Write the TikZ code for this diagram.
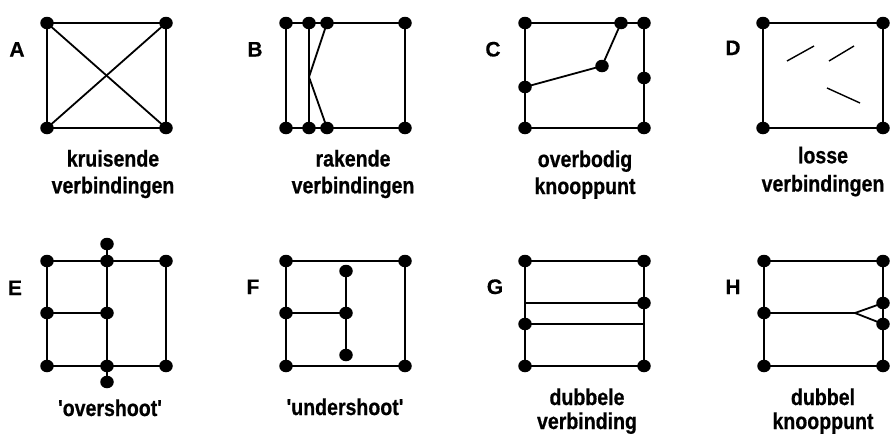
\documentclass[tikz,border=0pt]{standalone}
\usepackage{fontspec}
\usetikzlibrary{shapes.geometric}
\newfontfamily\capfont{Liberation Sans}[FakeStretch=0.85,FakeBold=0.6]
\newfontfamily\letfont{Liberation Sans}[FakeBold=0.4]
\begin{document}
\begin{tikzpicture}[x=1pt,y=-1pt,
  ln/.style={line width=1.8pt,line join=miter},
  thinln/.style={line width=1.4pt},
  dot/.style={ellipse,fill=black,inner sep=0pt,minimum width=13.5pt,minimum height=12.5pt},
  captxt/.style={anchor=base,inner sep=0pt,font=\capfont\bfseries\fontsize{23}{27}\selectfont},
  lettxt/.style={anchor=base,inner sep=0pt,font=\letfont\bfseries\fontsize{21}{25}\selectfont}]
\useasboundingbox (0,0) rectangle (890,434);
% ---------- A
\coordinate (a1) at (47,23); \coordinate (a2) at (166,23);
\coordinate (a3) at (47,128); \coordinate (a4) at (166,128);
\draw[ln] (a1) -- (a2) -- (a4) -- (a3) -- cycle;
\draw[ln] (a1) -- (a4); \draw[ln] (a2) -- (a3);
\foreach \p in {a1,a2,a3,a4} \node[dot] (n\p) at (\p) {};
\node[lettxt] (lA) at (17,56.5) {A};
\node[captxt] (tA1) at (113,166.5) {kruisende};
\node[captxt] (tA2) at (113,193.3) {verbindingen};
% ---------- B
\coordinate (b1) at (286,23); \coordinate (b2) at (309,23);
\coordinate (b3) at (327,23); \coordinate (b4) at (405,23);
\coordinate (b5) at (286,128); \coordinate (b6) at (309,128);
\coordinate (b7) at (327,128); \coordinate (b8) at (405,128);
\coordinate (bk) at (309,77);
\draw[ln] (b1) -- (b4) -- (b8) -- (b5) -- cycle;
\draw[ln] (b2) -- (b6);
\draw[ln] (b3) -- (bk) -- (b7);
\foreach \p in {b1,b2,b3,b4,b5,b6,b7,b8} \node[dot] (n\p) at (\p) {};
\node[lettxt] (lB) at (255,56.5) {B};
\node[captxt] (tB1) at (353,166.5) {rakende};
\node[captxt] (tB2) at (353,193.3) {verbindingen};
% ---------- C
\coordinate (c1) at (525,23); \coordinate (c2) at (621,23);
\coordinate (c3) at (644,23); \coordinate (c4) at (602,66);
\coordinate (c5) at (525,87); \coordinate (c6) at (644,78);
\coordinate (c7) at (525,128); \coordinate (c8) at (644,128);
\draw[ln] (c1) -- (c3) -- (c6) -- (c8) -- (c7) -- cycle;
\draw[ln] (c5) -- (c4) -- (c2);
\foreach \p in {c1,c2,c3,c4,c5,c6,c7,c8} \node[dot] (n\p) at (\p) {};
\node[lettxt] (lC) at (493,56.5) {C};
\node[captxt] (tC1) at (585,167) {overbodig};
\node[captxt] (tC2) at (585,194) {knooppunt};
% ---------- D
\coordinate (d1) at (763,23); \coordinate (d2) at (883,23);
\coordinate (d3) at (763,128); \coordinate (d4) at (883,128);
\draw[ln] (d1) -- (d2) -- (d4) -- (d3) -- cycle;
\coordinate (s1a) at (787,61); \coordinate (s1b) at (814,46);
\coordinate (s2a) at (829,61); \coordinate (s2b) at (854,46);
\coordinate (s3a) at (827,88); \coordinate (s3b) at (860,103);
\draw[thinln] (s1a) -- (s1b);
\draw[thinln] (s2a) -- (s2b);
\draw[thinln] (s3a) -- (s3b);
\foreach \p in {d1,d2,d3,d4} \node[dot] (n\p) at (\p) {};
\node[lettxt] (lD) at (733,55) {D};
\node[captxt] (tD1) at (823,163.3) {losse};
\node[captxt] (tD2) at (823,191.5) {verbindingen};
% ---------- E
\coordinate (e1) at (47,261); \coordinate (e2) at (107,261); \coordinate (e3) at (166,261);
\coordinate (e0) at (107,244);
\coordinate (e4) at (47,313); \coordinate (e5) at (107,313);
\coordinate (e6) at (47,366); \coordinate (e7) at (107,366); \coordinate (e8) at (166,366);
\coordinate (e9) at (107,382);
\draw[ln] (e1) -- (e3) -- (e8) -- (e6) -- cycle;
\draw[ln] (e4) -- (e5);
\draw[ln] (e0) -- (e9);
\foreach \p in {e0,e1,e2,e3,e4,e5,e6,e7,e8,e9} \node[dot] (n\p) at (\p) {};
\node[lettxt] (lE) at (15,295) {E};
\node[captxt] (tE) at (110,416) {'overshoot'};
% ---------- F
\coordinate (f1) at (286,261); \coordinate (f2) at (405,261);
\coordinate (f3) at (286,313); \coordinate (f4) at (346,313);
\coordinate (f5) at (346,271); \coordinate (f6) at (346,355);
\coordinate (f7) at (286,366); \coordinate (f8) at (405,366);
\draw[ln] (f1) -- (f2) -- (f8) -- (f7) -- cycle;
\draw[ln] (f3) -- (f4);
\draw[ln] (f5) -- (f6);
\foreach \p in {f1,f2,f3,f4,f5,f6,f7,f8} \node[dot] (n\p) at (\p) {};
\node[lettxt] (lF) at (253,294) {F};
\node[captxt] (tF) at (345,415) {'undershoot'};
% ---------- G
\coordinate (g1) at (525,261); \coordinate (g2) at (644,261);
\coordinate (g3) at (644,303); \coordinate (gl) at (525,303);
\coordinate (g4) at (525,324); \coordinate (gr) at (644,324);
\coordinate (g5) at (525,366); \coordinate (g6) at (644,366);
\draw[ln] (g1) -- (g2) -- (g6) -- (g5) -- cycle;
\draw[ln] (gl) -- (g3);
\draw[ln] (g4) -- (gr);
\foreach \p in {g1,g2,g3,g4,g5,g6} \node[dot] (n\p) at (\p) {};
\node[lettxt] (lG) at (495,294) {G};
\node[captxt] (tG1) at (587,405) {dubbele};
\node[captxt] (tG2) at (587,429) {verbinding};
% ---------- H
\coordinate (h1) at (764,261); \coordinate (h2) at (883,261);
\coordinate (h3) at (764,313); \coordinate (hb) at (855,313);
\coordinate (h4) at (883,303); \coordinate (h5) at (883,324);
\coordinate (h6) at (764,366); \coordinate (h7) at (883,366);
\draw[ln] (h1) -- (h2) -- (h7) -- (h6) -- cycle;
\draw[ln] (h3) -- (hb);
\draw[ln] (h4) -- (hb) -- (h5);
\foreach \p in {h1,h2,h3,h4,h5,h6,h7} \node[dot] (n\p) at (\p) {};
\node[lettxt] (lH) at (733,294) {H};
\node[captxt] (tH1) at (823,405) {dubbel};
\node[captxt] (tH2) at (823,429) {knooppunt};
\end{tikzpicture}
\end{document}
